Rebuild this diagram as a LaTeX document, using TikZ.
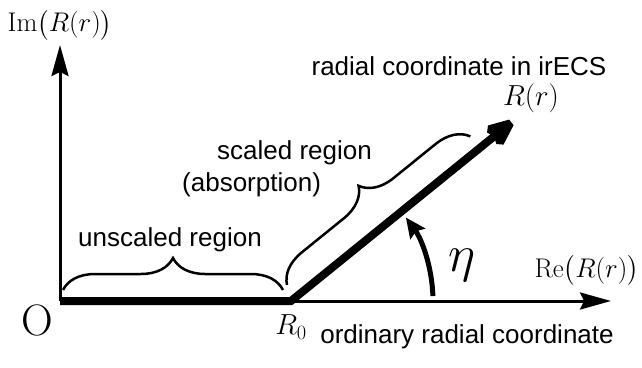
\RequirePackage{fix-cm}
\documentclass[tikz,border=0pt]{standalone}
\usepackage{fontspec}
\setsansfont{Liberation Sans}
\usepackage{amsmath}
\usetikzlibrary{arrows.meta,positioning,calc,decorations.pathreplacing}

\begin{document}
\begin{tikzpicture}[
  x=1pt, y=1pt,
  font=\sffamily\fontsize{26}{33}\selectfont,
  axis/.style={line width=3pt, -{Stealth[length=31pt, width=17pt, inset=4pt]}},
  ecs/.style={line width=8pt, miter limit=2, -{Stealth[length=36pt, width=30pt, inset=5pt]}},
  turn/.style={line width=5pt, -{Stealth[length=20pt, width=18pt, inset=3pt]}},
  region/.style={decorate, decoration={brace, amplitude=32pt}, line width=2.5pt},
  lbl/.style={inner sep=0pt},
  mlbl/.style={lbl, font=\fontsize{29}{33}\selectfont},
  axlbl/.style={lbl, font=\fontsize{27}{26}\selectfont}
]
\useasboundingbox (0,0) rectangle (642,367);

% axes and contour
\coordinate (origin) at (60,66);
\coordinate (r0) at (291,66);
\coordinate (imtip) at (60,322);
\coordinate (retip) at (611,66);
\coordinate (rtip) at (518,250);

\draw[axis] (origin) -- (imtip);
\draw[axis] (r0) -- (retip);
\draw[ecs] (origin) -- (r0) -- (rtip);

% rotation angle
\draw[turn] ([shift={(2:142)}]r0) arc[start angle=2, end angle=36, radius=142];

% braces
\draw[region] (63,77) -- (283,77);
\draw[region] ($(r0)+(39:7)+(129:15)$) -- ($(r0)+(39:243)+(129:15)$);

% labels
\node[lbl] (olbl) at (37,47) {\rmfamily\fontsize{44}{44}\selectfont O};
\node[axlbl, anchor=base] (imlbl) at (60,335) {$\mathrm{Im}\bigl(R(r)\bigr)$};
\node[axlbl, anchor=base east] (relbl) at (639,90) {$\mathrm{Re}\bigl(R(r)\bigr)$};
\node[mlbl] (rrlbl) at (531,269) {$R(r)$};
\node[mlbl] (r0lbl) at (291,40) {$R_0$};
\node[lbl] (etalbl) at (462,102) {\fontsize{52}{52}\selectfont$\eta$};
\node[lbl] (irecs) at (459,301) {radial coordinate in irECS};
\node[lbl, anchor=base west] (scaled) at (217,207) {scaled region};
\node[lbl, anchor=base west] (absorb) at (182,175) {(absorption)};
\node[lbl] (unscaled) at (170,127) {unscaled region};
\node[lbl] (ordinary) at (467,30) {ordinary radial coordinate};
\end{tikzpicture}
\end{document}
